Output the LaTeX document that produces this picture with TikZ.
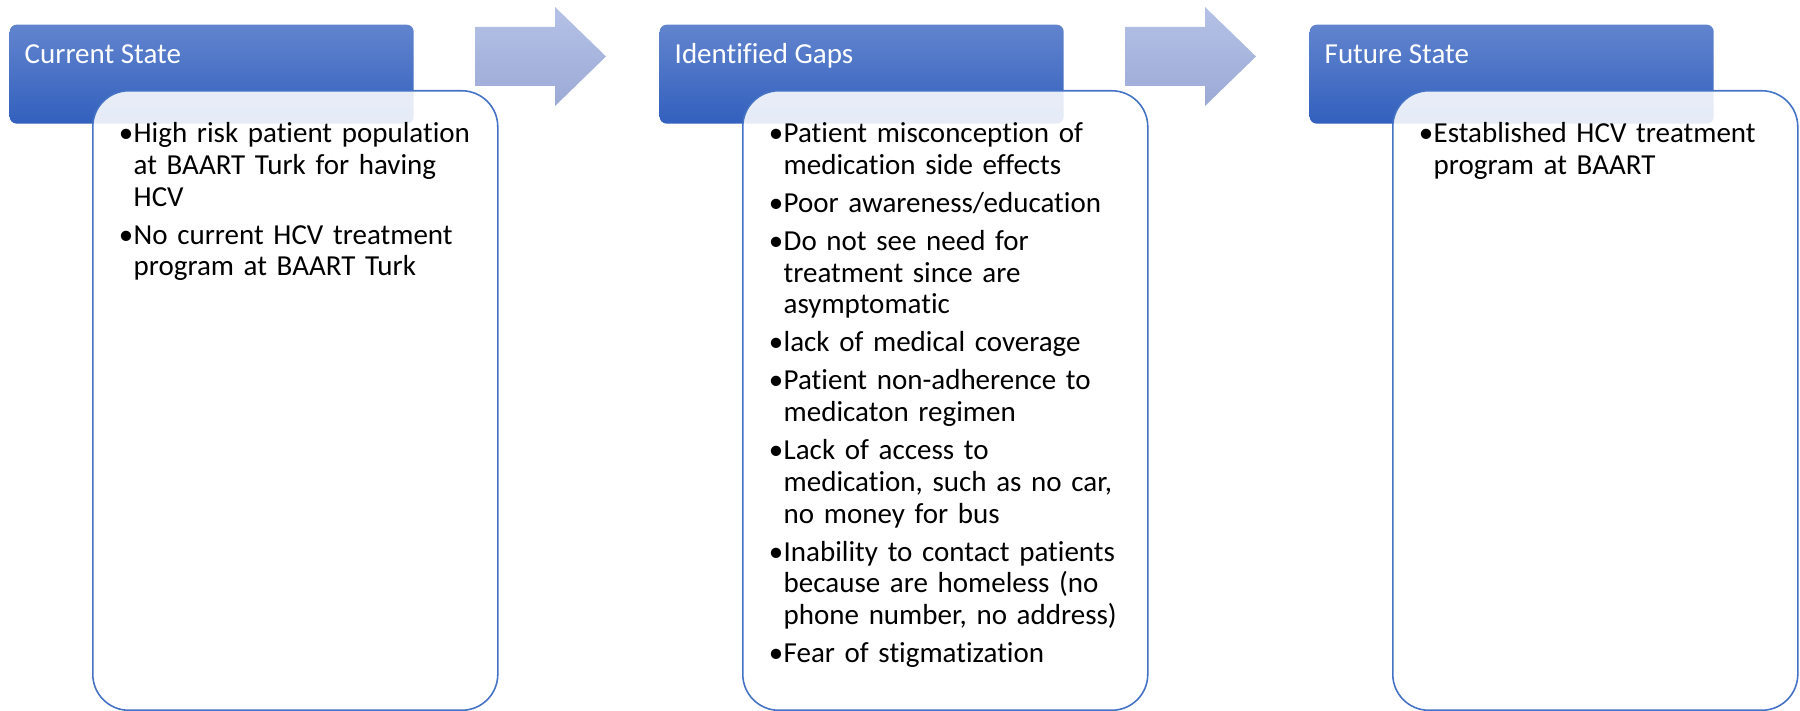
\documentclass[tikz,border=0pt]{standalone}
\usepackage{fontspec}
\setmainfont[Ligatures=NoCommon]{Carlito}
\usepackage{tikz}
\definecolor{headtop}{RGB}{98,132,206}
\definecolor{headmid}{RGB}{66,111,199}
\definecolor{headbot}{RGB}{50,96,189}
\definecolor{bodyline}{RGB}{68,114,196}
\definecolor{arrtop}{RGB}{181,193,230}
\definecolor{arrbot}{RGB}{155,170,214}
\tikzset{
  headbox/.style={rectangle, rounded corners=0.07cm, top color=headtop, middle color=headmid,
    bottom color=headbot, minimum width=4.04cm, minimum height=0.99cm, inner sep=0, anchor=north west},
  bodybox/.style={rectangle, rounded corners=0.36cm, draw=bodyline, line width=0.45pt, fill=white,
    fill opacity=0.88, minimum width=4.05cm, minimum height=6.195cm, inner sep=0, anchor=north west},
  headtitle/.style={text=white, font=\fontsize{8.25}{9.9}\selectfont, inner sep=0, anchor=base west},
  bodytext/.style={text width=4.4cm, align=left, inner sep=0, anchor=base west,
    font=\fontsize{8.25}{9.02}\selectfont},
  arrowfill/.style={top color=arrtop, bottom color=arrbot}
}
\newcommand{\bulletitem}{\noindent\llap{\textbullet\kern0.004cm}}
\newcommand{\nextitem}{\par\vspace{0.0635cm}\bulletitem}

\begin{document}
\begin{tikzpicture}[scale=1.0]
    \useasboundingbox (0,0) rectangle (18,7.11);
    % Header tabs with their translucent text panels
    \foreach \i/\name/\title in {0/cur/Current State, 1/gap/Identified Gaps, 2/fut/Future State} {
        \node[headbox] (\name-head) at (0.09+6.5*\i,6.87) {};
        \node[headtitle] (\name-title) at (0.24+6.5*\i,6.47) {\title};
        \node[bodybox] (\name-body) at (0.92+6.5*\i,6.21) {};
    }
    % Block arrows between the columns
    \foreach \i in {0,1} {
        \shade[arrowfill, xshift=\i*6.5cm] (4.75,6.84) -- (5.55,6.84) -- (5.55,7.04) -- (6.06,6.545)
            -- (5.55,6.05) -- (5.55,6.25) -- (4.75,6.25) -- cycle;
    }
    % Bullet text
    \node[bodytext] (cur-text) at (1.33,5.683) {%
        \bulletitem High risk patient population\\ at BAART Turk for having\\ HCV
        \nextitem No current HCV treatment\\ program at BAART Turk};
    \node[bodytext] (gap-text) at (7.83,5.683) {%
        \bulletitem Patient misconception of\\ medication side effects
        \nextitem Poor awareness/education
        \nextitem Do not see need for\\ treatment since are\\ asymptomatic
        \nextitem lack of medical coverage
        \nextitem Patient non-adherence to\\ medicaton regimen
        \nextitem Lack of access to\\ medication, such as no car,\\ no money for bus
        \nextitem Inability to contact patients\\ because are homeless (no\\ phone number, no address)
        \nextitem Fear of stigmatization};
    \node[bodytext] (fut-text) at (14.33,5.683) {%
        \bulletitem Established HCV treatment\\ program at BAART};
\end{tikzpicture}
\end{document}
